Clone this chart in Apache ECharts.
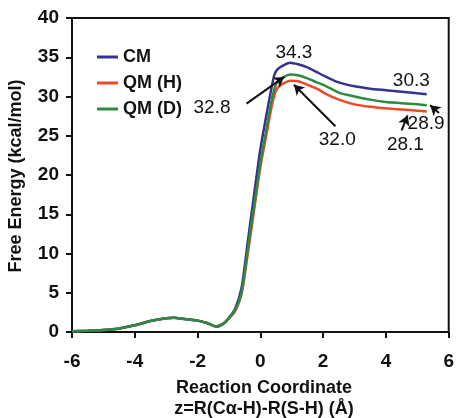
<!DOCTYPE html>
<html>
<head>
<meta charset="utf-8">
<script src="https://cdn.jsdelivr.net/npm/echarts@6/dist/echarts.min.js"></script>
<style>html,body{margin:0;padding:0;background:#fff}#c{width:457px;height:418px}</style>
</head>
<body>
<div id="c"></div>
<script>
// Reaction coordinate (Å)
var reactionCoord = [-6, -5.5, -5, -4.5, -4, -3.5, -3, -2.75, -2.5, -2, -1.7, -1.4, -1.2, -1.0, -0.8, -0.6, -0.4, -0.2, 0, 0.2, 0.35, 0.45, 0.55, 0.75, 0.95, 1.2, 1.5, 1.8, 2.1, 2.5, 3.0, 3.5, 4.0, 4.5, 5.0, 5.3];
// Free energy (kcal/mol)
var cmValues  = [0.1, 0.15, 0.25, 0.45, 0.85, 1.4, 1.75, 1.8, 1.7, 1.45, 1.15, 0.7, 1.0, 1.8, 3.0, 5.6, 11.5, 17.5, 23.3, 27.8, 31.0, 32.8, 33.5, 34.0, 34.3, 34.1, 33.7, 33.1, 32.5, 31.8, 31.3, 31.0, 30.8, 30.6, 30.4, 30.3];
var qmHValues = [0.1, 0.15, 0.25, 0.45, 0.85, 1.4, 1.75, 1.8, 1.7, 1.45, 1.15, 0.7, 1.0, 1.75, 2.7, 4.8, 10.0, 15.5, 21.0, 25.3, 28.5, 30.2, 31.1, 31.7, 32.0, 31.95, 31.5, 31.0, 30.3, 29.6, 29.0, 28.7, 28.5, 28.35, 28.2, 28.1];
var qmDValues = [0.1, 0.15, 0.25, 0.45, 0.85, 1.4, 1.75, 1.8, 1.7, 1.45, 1.15, 0.7, 1.0, 1.75, 2.8, 5.0, 10.5, 16.0, 21.5, 26.0, 29.3, 31.0, 31.9, 32.5, 32.8, 32.7, 32.3, 31.8, 31.3, 30.5, 30.0, 29.6, 29.3, 29.15, 29.0, 28.9];
var seriesNames = ['CM', 'QM (H)', 'QM (D)'];
var xTicks = [-6, -4, -2, 0, 2, 4, 6];
var yTicks = [0, 5, 10, 15, 20, 25, 30, 35, 40];
// Annotations: text and its position (data units), arrow start/end (data units)
var annText = ['34.3', '30.3', '32.8', '32.0', '28.9', '28.1'];
var annX = [1.07, 4.81, -1.54, 2.45, 5.28, 4.62];
var annY = [35.6, 32.0, 28.6, 24.5, 26.5, 23.9];
var arrowFrom = [null, null, [-0.44, 29.1], [2.39, 26.2], [5.69, 27.9], [4.5, 25.7]];
var arrowTo = [null, null, [0.76, 32.5], [1.07, 31.5], [5.41, 28.9], [4.69, 27.6]];

var FONT = 'Liberation Sans, Arial, sans-serif';
var colors = ['#35338f', '#ee4a26', '#2f8a40'];
var zOrder = [3, 2, 4];
function pairs(vals) { return reactionCoord.map(function (x, i) { return [x, vals[i]]; }); }

var arrows = [];
for (var i = 0; i < annText.length; i++) {
  if (arrowFrom[i]) arrows.push([{ coord: arrowFrom[i] }, { coord: arrowTo[i] }]);
}

var chart = echarts.init(document.getElementById('c'), null, { renderer: 'canvas' });
var valsList = [cmValues, qmHValues, qmDValues];
var series = valsList.map(function (v, k) {
  return {
    name: seriesNames[k], type: 'line', data: pairs(v), showSymbol: false, smooth: 0.25,
    lineStyle: { color: colors[k], width: 2.5 }, itemStyle: { color: colors[k] },
    z: zOrder[k]
  };
});
series.push({
  type: 'line', data: [], silent: true,
  markLine: {
    silent: true, symbol: ['none', 'arrow'], symbolSize: [9, 10],
    lineStyle: { color: '#111', width: 2, type: 'solid' },
    label: { show: false }, data: arrows, animation: false
  }
});

chart.setOption({
  animation: false,
  grid: { left: 72, top: 18, right: 3, bottom: 86, show: true, borderColor: '#111', borderWidth: 2 },
  legend: {
    data: seriesNames, orient: 'vertical', left: 92, top: 43, icon: 'rect',
    itemWidth: 21, itemHeight: 3, itemGap: 8,
    textStyle: { fontFamily: FONT, fontWeight: 'bold', fontSize: 18, color: '#111', lineHeight: 18 }
  },
  xAxis: {
    type: 'value', min: xTicks[0], max: xTicks[xTicks.length - 1], interval: 2,
    axisLine: { onZero: false, lineStyle: { color: '#111', width: 2 } },
    axisTick: { show: true, inside: false, length: 6, lineStyle: { width: 2, color: '#111' } },
    axisLabel: { margin: 20, fontFamily: FONT, fontWeight: 'bold', fontSize: 19, color: '#111' },
    splitLine: { show: false }
  },
  yAxis: {
    type: 'value', min: yTicks[0], max: yTicks[yTicks.length - 1], interval: 5,
    axisLine: { show: true, onZero: false, lineStyle: { color: '#111', width: 2 } },
    axisTick: { show: true, inside: false, length: 6, lineStyle: { width: 2, color: '#111' } },
    axisLabel: { margin: 13, fontFamily: FONT, fontWeight: 'bold', fontSize: 19, color: '#111' },
    splitLine: { show: false }
  },
  series: series
});

var g = [];
for (var j = 0; j < annText.length; j++) {
  var p = chart.convertToPixel({ gridIndex: 0 }, [annX[j], annY[j]]);
  g.push({
    type: 'text', x: p[0], y: p[1], z: 10,
    style: { text: annText[j], fontFamily: FONT, fontSize: 19, fill: '#111', textAlign: 'center', textVerticalAlign: 'middle' }
  });
}
g.push({
  type: 'text', x: 16, y: 176, rotation: Math.PI / 2,
  style: { text: 'Free Energy (kcal/mol)', fontFamily: FONT, fontWeight: 'bold', fontSize: 18, fill: '#111', textAlign: 'center', textVerticalAlign: 'middle' }
});
g.push({
  type: 'text', x: 264, y: 388,
  style: { text: 'Reaction Coordinate', fontFamily: FONT, fontWeight: 'bold', fontSize: 18, fill: '#111', textAlign: 'center', textVerticalAlign: 'middle' }
});
g.push({
  type: 'text', x: 264, y: 409,
  style: { text: 'z=R(C\u03b1-H)-R(S-H) (\u00c5)', fontFamily: FONT, fontWeight: 'bold', fontSize: 18, fill: '#111', textAlign: 'center', textVerticalAlign: 'middle' }
});
chart.setOption({ graphic: g });
</script>
</body>
</html>
